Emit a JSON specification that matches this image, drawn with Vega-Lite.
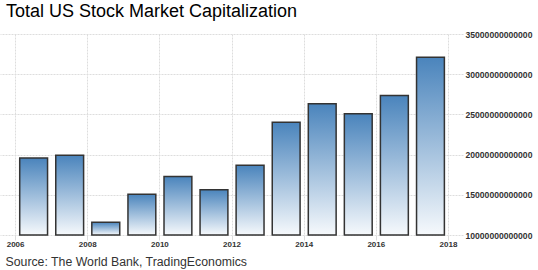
{
  "$schema": "https://vega.github.io/schema/vega-lite/v6.json",
  "autosize": "none",
  "padding": {"left": 0, "top": 34, "right": 75, "bottom": 35},
  "width": 463,
  "height": 201,
  "background": "white",
  "title": {
    "text": "Total US Stock Market Capitalization",
    "anchor": "start",
    "frame": "group",
    "dx": 6,
    "offset": 9,
    "font": "Liberation Sans",
    "fontSize": 18,
    "fontWeight": "normal",
    "color": "#000000"
  },
  "config": {
    "view": {"stroke": null},
    "font": "Liberation Sans"
  },
  "data": {
    "values": [
      {"date": "2006-01-01", "value": 19570000000000},
      {"date": "2007-01-01", "value": 19920000000000},
      {"date": "2008-01-01", "value": 11590000000000},
      {"date": "2009-01-01", "value": 15080000000000},
      {"date": "2010-01-01", "value": 17280000000000},
      {"date": "2011-01-01", "value": 15640000000000},
      {"date": "2012-01-01", "value": 18670000000000},
      {"date": "2013-01-01", "value": 24030000000000},
      {"date": "2014-01-01", "value": 26330000000000},
      {"date": "2015-01-01", "value": 25070000000000},
      {"date": "2016-01-01", "value": 27350000000000},
      {"date": "2017-01-01", "value": 32120000000000}
    ]
  },
  "mark": {
    "type": "bar",
    "width": {"band": 0.8},
    "stroke": "#333333",
    "strokeWidth": 1.5,
    "fill": {
      "gradient": "linear",
      "x1": 0, "y1": 0, "x2": 0, "y2": 1,
      "stops": [
        {"offset": 0, "color": "#4a84bc"},
        {"offset": 1, "color": "#f6f9fc"}
      ]
    }
  },
  "encoding": {
    "x": {
      "field": "date",
      "timeUnit": "utcyear",
      "type": "temporal",
      "scale": {
        "domain": [
          {"year": 2005, "month": 8, "date": 1, "utc": true},
          {"year": 2018, "month": 6, "date": 2, "utc": true}
        ]
      },
      "axis": {
        "title": "Source: The World Bank, TradingEconomics",
        "titleAnchor": "start",
        "titleAlign": "left",
        "titleBaseline": "alphabetic",
        "titleX": 5,
        "titleY": 30,
        "titleFont": "Liberation Sans",
        "titleFontSize": 12.3,
        "titleFontWeight": "normal",
        "titleColor": "#333333",
        "format": "%Y",
        "values": [
          {"year": 2006, "utc": true},
          {"year": 2008, "utc": true},
          {"year": 2010, "utc": true},
          {"year": 2012, "utc": true},
          {"year": 2014, "utc": true},
          {"year": 2016, "utc": true},
          {"year": 2018, "utc": true}
        ],
        "domain": false,
        "grid": true,
        "gridColor": "#dddddd",
        "gridDash": [2, 1],
        "tickColor": "#dddddd",
        "tickSize": 5,
        "labelPadding": 0,
        "labelFont": "Liberation Sans",
        "labelFontSize": 8,
        "labelFontWeight": "bold",
        "labelColor": "#333333",
        "labelFlush": false
      }
    },
    "y": {
      "field": "value",
      "type": "quantitative",
      "scale": {"domain": [10000000000000, 35000000000000], "zero": false, "nice": false},
      "axis": {
        "orient": "right",
        "title": null,
        "values": [10000000000000, 15000000000000, 20000000000000, 25000000000000, 30000000000000, 35000000000000],
        "format": "d",
        "domain": false,
        "ticks": false,
        "grid": true,
        "gridColor": "#dddddd",
        "gridDash": [2, 1],
        "labelPadding": 2,
        "labelFont": "Liberation Sans",
        "labelFontSize": 8.6,
        "labelFontWeight": "bold",
        "labelColor": "#333333",
        "labelBaseline": "middle"
      }
    },
    "y2": {"datum": 10000000000000}
  }
}
